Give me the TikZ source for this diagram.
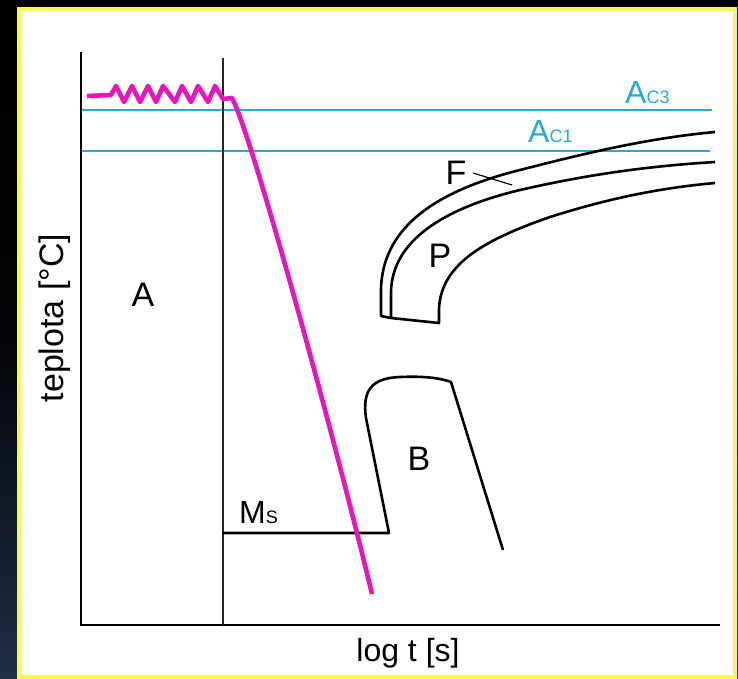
\documentclass[tikz,border=0pt]{standalone}
\usepackage{fontspec}
\setmainfont{Liberation Sans}
\definecolor{acblue}{RGB}{35,170,225}
\definecolor{coolmag}{RGB}{232,20,190}
\definecolor{frameyel}{RGB}{250,245,80}
\definecolor{navybg}{RGB}{32,46,72}
\tikzset{
  axisline/.style={draw=black,line width=2pt},
  thinline/.style={draw=black!85,line width=1.3pt},
  curveline/.style={draw=black,line width=2.6pt,line join=round},
  acline/.style={draw=acblue,line width=1.6pt},
  coolline/.style={draw=coolmag,line width=4.6pt,line join=round},
  biglabel/.style={font=\fontsize{34}{40}\selectfont,inner sep=0pt},
  aclabel/.style={font=\fontsize{32}{38}\selectfont,text=acblue,inner sep=0pt}
}
\newcommand{\smallsub}[1]{{\fontsize{18}{20}\selectfont #1}}
\begin{document}
\begin{tikzpicture}[x=1pt,y=-1pt]
\useasboundingbox (0,0) rectangle (738,679);
% background
\shade[top color=black, bottom color=navybg, middle color=black!90!navybg] (0,0) rectangle (738,679);
\draw[draw=frameyel,line width=4pt,fill=white] (19,9) rectangle (735,677);
% reference lines
\coordinate (ac3l) at (81,110);
\coordinate (ac3r) at (712,110);
\coordinate (ac1l) at (81,151);
\coordinate (ac1r) at (710,151);
\draw[acline] (ac3l) -- (ac3r);
\draw[acline] (ac1l) -- (ac1r);
% axes
\coordinate (ytop) at (81,52);
\coordinate (origin) at (81,625);
\coordinate (xend) at (720,625);
\draw[axisline] (ytop) -- (origin) -- (xend);
% vertical separator
\coordinate (vtop) at (223,58);
\coordinate (vbot) at (223,625);
\draw[thinline] (vtop) -- (vbot);
% Ms and bainite nose
\coordinate (msl) at (223,533);
\coordinate (msr) at (389,533);
\coordinate (bend) at (503,550);
\draw[curveline] (msl) -- (msr) -- (366,418)
  .. controls (362,390) and (372,378) .. (400,377)
  .. controls (425,376) and (440,378) .. (451,382) -- (bend);
% pearlite / ferrite curves
\draw[curveline] (715,132) .. controls (650,138) and (590,152) .. (520,170)
  .. controls (440,190) and (382,225) .. (381,290) -- (381,316)
  -- (391,318) -- (439,323) -- (439,310)
  .. controls (440,262) and (490,238) .. (550,217)
  .. controls (610,198) and (660,188) .. (715,183);
\draw[curveline] (391,318) -- (391,292) .. controls (392,240) and (445,208) .. (520,190)
  .. controls (590,174) and (650,166) .. (715,162);
\coordinate (fa) at (473,173);
\coordinate (fb) at (512,185);
\draw[draw=black,line width=1.2pt] (fa) -- (fb);
% cooling curve
\coordinate (coolend) at (372,594);
\draw[coolline] (87,96) -- (111,95) -- (116,86) -- (124,102) -- (132,86) -- (140,102)
  -- (148,86) -- (156,102) -- (163,86) -- (175,102) -- (182,86) -- (191,102)
  -- (198,86) -- (208,102) -- (215,86) -- (223,99) -- (232,98)
  .. controls (250,130) and (330,420) .. (coolend);
% labels
\node[biglabel,rotate=90,anchor=base] (ylab) at (63,318) {teplota [°C]};
\node[biglabel,anchor=base,font=\fontsize{32}{38}\selectfont] (xlab) at (408,661) {log t [s]};
\node[biglabel,anchor=base] (labA) at (143,306) {A};
\node[biglabel,anchor=base] (labB) at (419,470) {B};
\node[biglabel,anchor=base] (labP) at (440,267) {P};
\node[biglabel,anchor=base] (labF) at (456,185) {F};
\node[biglabel,anchor=base west,font=\fontsize{32}{38}\selectfont] (labMs) at (239,523) {M\smallsub{S}};
\node[aclabel,anchor=base west] (labAc3) at (625,104) {A\smallsub{C3}};
\node[aclabel,anchor=base west] (labAc1) at (528,143) {A\smallsub{C1}};
\end{tikzpicture}
\end{document}
